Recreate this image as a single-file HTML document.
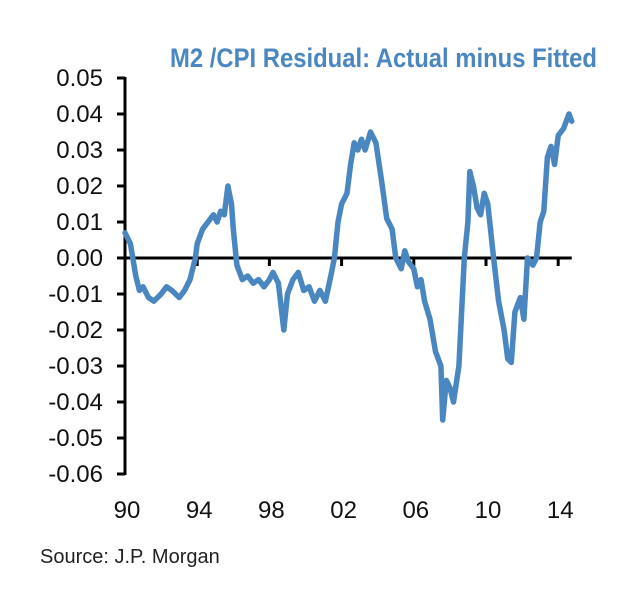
<!DOCTYPE html>
<html><head><meta charset="utf-8">
<style>
html,body{margin:0;padding:0;background:#fff;}
svg{display:block;font-family:"Liberation Sans",Arial,sans-serif;}
</style></head>
<body>
<svg id="chart" width="640" height="591" viewBox="0 0 640 591">
  <text x="597" y="67" text-anchor="end" font-size="27" font-weight="bold" fill="#4a86c0" textLength="427" lengthAdjust="spacingAndGlyphs">M2 /CPI Residual: Actual minus Fitted</text>
  <g id="yaxis"></g>
  <g id="xaxis"></g>
  <g id="series"></g>
  <text x="40" y="563" font-size="20" fill="#222">Source: J.P. Morgan</text>
</svg>
<script>
const yTicks = [0.05,0.04,0.03,0.02,0.01,0.00,-0.01,-0.02,-0.03,-0.04,-0.05,-0.06];
const yTickLabels = ["0.05","0.04","0.03","0.02","0.01","0.00","-0.01","-0.02","-0.03","-0.04","-0.05","-0.06"];
const xTicks = [1990,1994,1998,2002,2006,2010,2014];
const xTickLabels = ["90","94","98","02","06","10","14"];
const years = [1990.0,1990.3,1990.6,1990.8,1991.0,1991.3,1991.6,1992.0,1992.3,1992.6,1993.0,1993.3,1993.6,1993.9,1994.0,1994.3,1994.6,1994.9,1995.1,1995.3,1995.5,1995.7,1995.9,1996.0,1996.2,1996.5,1996.8,1997.1,1997.4,1997.7,1998.0,1998.2,1998.5,1998.8,1999.0,1999.3,1999.6,1999.9,2000.2,2000.5,2000.8,2001.1,2001.4,2001.6,2001.8,2002.0,2002.3,2002.5,2002.7,2002.9,2003.1,2003.3,2003.6,2003.9,2004.2,2004.5,2004.8,2005.0,2005.3,2005.5,2005.7,2006.0,2006.2,2006.4,2006.6,2006.9,2007.2,2007.5,2007.6,2007.8,2008.0,2008.2,2008.5,2008.8,2009.0,2009.1,2009.3,2009.5,2009.7,2009.9,2010.1,2010.4,2010.7,2011.0,2011.2,2011.4,2011.6,2011.9,2012.1,2012.3,2012.6,2012.8,2013.0,2013.2,2013.4,2013.6,2013.8,2014.0,2014.3,2014.6,2014.75];
const residuals = [0.007,0.004,-0.005,-0.009,-0.008,-0.011,-0.012,-0.010,-0.008,-0.009,-0.011,-0.009,-0.006,0.000,0.004,0.008,0.010,0.012,0.010,0.013,0.012,0.020,0.015,0.008,-0.002,-0.006,-0.005,-0.007,-0.006,-0.008,-0.006,-0.004,-0.007,-0.020,-0.010,-0.006,-0.004,-0.009,-0.008,-0.012,-0.009,-0.012,-0.005,0.000,0.010,0.015,0.018,0.026,0.032,0.030,0.033,0.030,0.035,0.032,0.022,0.011,0.008,0.000,-0.003,0.002,-0.001,-0.003,-0.008,-0.006,-0.012,-0.017,-0.026,-0.030,-0.045,-0.034,-0.036,-0.040,-0.030,0.000,0.010,0.024,0.020,0.014,0.012,0.018,0.015,0.001,-0.012,-0.020,-0.028,-0.029,-0.015,-0.011,-0.017,0.000,-0.002,0.000,0.010,0.013,0.028,0.031,0.026,0.034,0.036,0.040,0.038];

const NS = "http://www.w3.org/2000/svg";
const X0 = 125, PX_PER_YEAR = 18.05, Y0 = 258, PX_PER_UNIT = 3600;
function xScale(yr){ return X0 + (yr - 1990) * PX_PER_YEAR; }
function yScale(v){ return Y0 - v * PX_PER_UNIT; }
function mk(tag, attrs, parent){ const e = document.createElementNS(NS, tag); for (const k in attrs) e.setAttribute(k, attrs[k]); parent.appendChild(e); return e; }

const yG = document.getElementById('yaxis');
const yl = mk('line', {x1:X0, x2:X0, y1:yScale(0.05)-1, y2:yScale(-0.06)+1, stroke:'#000','stroke-width':3}, yG);


yTicks.forEach((t,i)=>{
  const tk = mk('line', {x1:X0-8, x2:X0, y1:yScale(t), y2:yScale(t), stroke:'#000','stroke-width':3}, yG);
  
  
  const tx = mk('text', {x:X0-22, y:yScale(t)+8, 'text-anchor':'end','font-size':24, fill:'#111'}, yG);
  tx.textContent = yTickLabels[i];
  
  
});

const xG = document.getElementById('xaxis');
const xl = mk('line', {x1:X0, x2:xScale(2014.75), y1:Y0, y2:Y0, stroke:'#000','stroke-width':3}, xG);


xTicks.forEach((t,i)=>{
  const tk = mk('line', {x1:xScale(t), x2:xScale(t), y1:Y0, y2:Y0+8, stroke:'#000','stroke-width':3}, xG);
  
  
  const tx = mk('text', {x:xScale(t)+2, y:518, 'text-anchor':'middle','font-size':24, fill:'#111'}, xG);
  tx.textContent = xTickLabels[i];
  
  
});

const sG = document.getElementById('series');
const pts = years.map((yr,i)=> xScale(yr).toFixed(1)+','+yScale(residuals[i]).toFixed(1)).join(' ');
const pl = mk('polyline', {points:pts, fill:'none', stroke:'#4a86c0','stroke-width':5.5,'stroke-linejoin':'round','stroke-linecap':'round'}, sG);


</script>
</body></html>
